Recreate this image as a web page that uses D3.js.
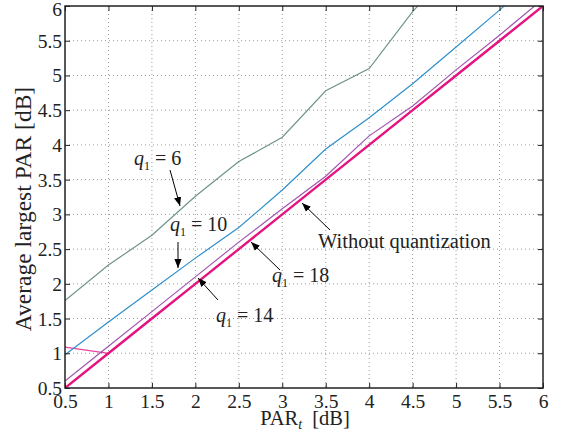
<!DOCTYPE html>
<html><head><meta charset="utf-8">
<script src="https://cdn.jsdelivr.net/npm/d3@7"></script>
<style>body{margin:0;background:#fff}svg text{font-family:"Liberation Serif","Times New Roman",serif;fill:#222}</style>
</head><body><svg id="c" width="567" height="436"></svg>
<script>
const xVals = [0.5,1,1.5,2,2.5,3,3.5,4,4.5,5,5.5,6];
const q6 = [1.76,2.27,2.70,3.26,3.76,4.11,4.78,5.10,5.92,6.6,7.2,7.8];
const q10 = [0.98,1.45,1.91,2.37,2.81,3.35,3.94,4.39,4.88,5.41,5.94,6.5];
const q14 = [0.6,1.1,1.6,2.1,2.6,3.08,3.55,4.13,4.56,5.08,5.58,6.1];
const q18 = [1.09,1.0,1.5,2.0,2.5,3.0,3.5,4.0,4.5,5.0,5.5,6.0];
const noQuant = [0.5,1,1.5,2,2.5,3,3.5,4,4.5,5,5.5,6];
const tickVals = [0.5,1,1.5,2,2.5,3,3.5,4,4.5,5,5.5,6];
const tickLabels = ["0.5","1","1.5","2","2.5","3","3.5","4","4.5","5","5.5","6"];

const L=65,R=543,T=6,B=388;
const svg=d3.select("#c");
const x=d3.scaleLinear().domain([0.5,6]).range([L,R]);
const y=d3.scaleLinear().domain([0.5,6]).range([B,T]);

svg.append("defs").html(`<clipPath id="clip"><rect x="${L}" y="${T}" width="${R-L}" height="${B-T}"/></clipPath>
<marker id="ah" viewBox="0 0 10 10" refX="10" refY="5" markerWidth="9" markerHeight="9" markerUnits="userSpaceOnUse" orient="auto"><path d="M0,1 L10,5 L0,9 z" fill="#000"/></marker>`);

// grid
const g=svg.append("g");
g.selectAll(".gx").data(tickVals.slice(1,-1)).join("line")
 .attr("x1",d=>x(d)).attr("x2",d=>x(d)).attr("y1",T).attr("y2",B)
 .attr("stroke","#9a9a9a").attr("stroke-width",1).attr("stroke-dasharray","1,3");
g.selectAll(".gy").data(tickVals.slice(1,-1)).join("line")
 .attr("y1",d=>y(d)).attr("y2",d=>y(d)).attr("x1",L).attr("x2",R)
 .attr("stroke","#9a9a9a").attr("stroke-width",1).attr("stroke-dasharray","1,3");

// series
const line=d3.line().x((d,i)=>x(xVals[i])).y(d=>y(d));
const plot=svg.append("g").attr("clip-path","url(#clip)");
const series=[
 {v:q18,c:"#e8409a",w:1.2},
 {v:q6,c:"#6f938c",w:1.2},
 {v:q10,c:"#2f8fcb",w:1.2},
 {v:q14,c:"#a056b0",w:1.2},
 {v:noQuant,c:"#e6127f",w:2.4}
];
series.forEach(s=>plot.append("path").attr("d",line(s.v)).attr("fill","none").attr("stroke",s.c).attr("stroke-width",s.w));

// axes with inward ticks on all sides (labels added as serif text to each tick)
const fmt=(d)=>tickLabels[tickVals.indexOf(d)];
const ax=(a)=>a.tickValues(tickVals).tickSizeInner(-5).tickSizeOuter(0).tickFormat("");
const xb=svg.append("g").attr("transform",`translate(0,${B})`).call(ax(d3.axisBottom(x)));
const yl=svg.append("g").attr("transform",`translate(${L},0)`).call(ax(d3.axisLeft(y)));
const xt=svg.append("g").attr("transform",`translate(0,${T})`).call(ax(d3.axisTop(x)));
const yr=svg.append("g").attr("transform",`translate(${R},0)`).call(ax(d3.axisRight(y)));
[xb,yl,xt,yr].forEach(a=>{a.select(".domain").remove();a.selectAll(".tick text").remove();a.selectAll("line").attr("stroke","#222");});
xb.selectAll(".tick").append("text").text(d=>fmt(d))
  .attr("y",20).attr("text-anchor","middle")
  .attr("style","font-family:'Liberation Serif',serif;font-size:19.5px;fill:#222");
yl.selectAll(".tick").append("text").text(d=>fmt(d))
  .attr("x",-3).attr("y",d=>d===6?9:6.5).attr("text-anchor","end")
  .attr("style","font-family:'Liberation Serif',serif;font-size:19.5px;fill:#222");
svg.append("rect").attr("x",L).attr("y",T).attr("width",R-L).attr("height",B-T).attr("fill","none").attr("stroke","#222").attr("stroke-width",1.5);

// axis labels
const xl=svg.append("text").attr("x",305).attr("y",425).attr("text-anchor","middle").style("font-size","20.5px");
xl.append("tspan").text("PAR");
xl.append("tspan").text("t").style("font-style","italic").style("font-size","14px").attr("dy",4);
xl.append("tspan").text("\u00a0\u00a0[dB]").attr("dy",-4);
svg.append("text").attr("transform","translate(31,209) rotate(-90)").attr("text-anchor","middle").style("font-size","23.5px").text("Average largest PAR  [dB]");

// annotations
function qlabel(px,py,val){
 const t=svg.append("text").attr("x",px).attr("y",py).style("font-size","20px");
 t.append("tspan").text("q").style("font-style","italic");
 t.append("tspan").text("1").style("font-size","12px").attr("dy",5);
 t.append("tspan").text(" = "+val).attr("dy",-5);
}
function arrow(x1,y1,x2,y2){
 svg.append("line").attr("x1",x1).attr("y1",y1).attr("x2",x2).attr("y2",y2).attr("stroke","#000").attr("stroke-width",1).attr("marker-end","url(#ah)");
}
qlabel(134,165,"6"); arrow(170,170,180,206);
qlabel(170,231,"10"); arrow(178,242,178,268);
qlabel(216,322,"14"); arrow(218,300,198,278);
qlabel(272,282,"18"); arrow(280,270,251,242);
svg.append("text").attr("x",318).attr("y",248).style("font-size","20.5px").text("Without quantization");
arrow(330,230,302,203);
</script></body></html>
